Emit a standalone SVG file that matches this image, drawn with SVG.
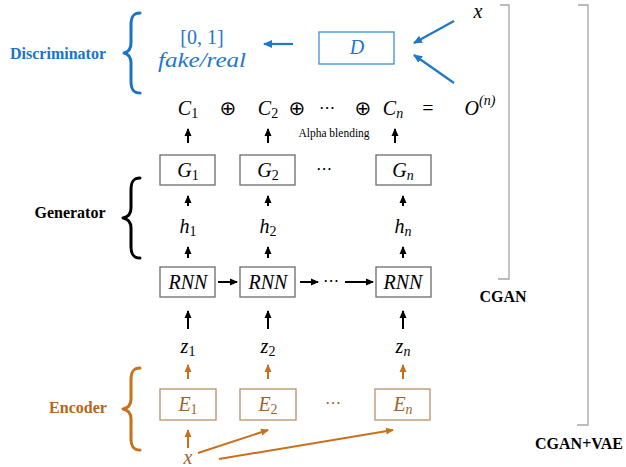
<svg xmlns="http://www.w3.org/2000/svg" width="626" height="467" viewBox="0 0 626 467">
<style>
.m{font-family:"Liberation Serif","Times New Roman",serif;font-style:italic;font-size:20px;text-anchor:middle}
.up{font-style:normal}
.sub{font-size:14px;font-style:normal}
.subi{font-size:14px}
.sym{font-family:"DejaVu Sans",sans-serif;font-style:normal;font-size:20px;text-anchor:middle}
.dots{font-family:"DejaVu Sans",sans-serif;font-style:normal;font-size:16px;text-anchor:middle}
.lbl{font-family:"Liberation Serif","Times New Roman",serif;font-weight:bold;font-size:16px}
.box{fill:#fff;stroke:#6b6b6b;stroke-width:1.3}
.ebox{fill:#fff;stroke:#b8916a;stroke-width:1.3}
.dbox{fill:#fff;stroke:#3d8fd6;stroke-width:1.3}
.ar{stroke:#000;stroke-width:2;fill:none;marker-end:url(#hk)}
.ao{stroke:#c8701e;stroke-width:2;fill:none;marker-end:url(#ho)}
.ab{stroke:#1f78c8;stroke-width:2.2;fill:none;marker-end:url(#hb)}
.brace{fill:none;stroke-width:3;stroke-linecap:round;stroke-linejoin:round}
.bk{fill:none;stroke:#a6a6a6;stroke-width:1.3}
</style>
<defs>
<marker id="hk" markerUnits="userSpaceOnUse" markerWidth="8" markerHeight="8" refX="7" refY="4" orient="auto"><path d="M0,0.5 L8,4 L0,7.5 z" fill="#000"/></marker>
<marker id="ho" markerUnits="userSpaceOnUse" markerWidth="8" markerHeight="8" refX="7" refY="4" orient="auto"><path d="M0,0.5 L8,4 L0,7.5 z" fill="#c8701e"/></marker>
<marker id="hb" markerUnits="userSpaceOnUse" markerWidth="9" markerHeight="9" refX="8" refY="4.5" orient="auto"><path d="M0,0.5 L9,4.5 L0,8.5 z" fill="#1f78c8"/></marker>
</defs>

<!-- outer brackets -->
<g id="bracket-cgan"><polyline class="bk" points="500,5 509,5 509,279 498,279"/><text class="lbl" x="503" y="302" text-anchor="middle">CGAN</text></g>
<g id="bracket-cganvae"><polyline class="bk" points="578,5 588,5 588,425 577,425"/><text class="lbl" x="579" y="449" text-anchor="middle">CGAN+VAE</text></g>

<!-- discriminator -->
<g id="discriminator-label"><text class="lbl" x="58" y="59" text-anchor="middle" fill="#1a74c6">Discriminator</text>
<path class="brace" stroke="#1a74c6" d="M140,13 C133,13 131,17 131,25 L131,43 C131,49 128,52 124,53 C128,54 131,57 131,63 L131,81 C131,89 133,93 140,93"/></g>
<g id="output"><text class="m up" x="202" y="44" fill="#1f78c8">[0, 1]</text>
<text class="m" x="202" y="67" fill="#1f78c8" textLength="88" lengthAdjust="spacingAndGlyphs">fake/real</text></g>
<g id="D"><rect class="dbox" x="319" y="32" width="75" height="32"/><text class="m" x="357" y="54" fill="#1f78c8">D</text></g>
<g id="x-top"><text class="m" x="478" y="18">x</text></g>

<!-- C row -->
<g id="C1"><text class="m" x="188" y="115">C<tspan class="sub" dy="3">1</tspan></text></g>
<g id="C2"><text class="m" x="268" y="115">C<tspan class="sub" dy="3">2</tspan></text></g>
<g id="Cn"><text class="m" x="393" y="115">C<tspan class="subi" dy="3">n</tspan></text></g>
<g id="ops">
<text class="sym" x="228" y="115">⊕</text>
<text class="sym" x="297" y="115">⊕</text>
<text class="dots" x="327" y="113">⋯</text>
<text class="sym" x="363" y="115">⊕</text>
<text class="m up" x="428" y="115">=</text>
</g>
<g id="On"><text class="m" x="480" y="115">O<tspan class="subi" dy="-10">(n)</tspan></text></g>
<g id="alpha"><text x="334" y="137" font-family="Liberation Serif,serif" font-size="11.5" text-anchor="middle">Alpha blending</text></g>

<!-- G boxes -->
<g id="G1"><rect class="box" x="160" y="155" width="55" height="30"/><text class="m" x="188" y="177">G<tspan class="sub" dy="3">1</tspan></text></g>
<g id="G2"><rect class="box" x="240" y="155" width="55" height="30"/><text class="m" x="268" y="177">G<tspan class="sub" dy="3">2</tspan></text></g>
<g id="Gdots"><text class="dots" x="324" y="174">⋯</text></g>
<g id="Gn"><rect class="box" x="376" y="155" width="55" height="30"/><text class="m" x="403" y="177">G<tspan class="subi" dy="3">n</tspan></text></g>

<!-- generator label -->
<g id="generator-label"><text class="lbl" x="70" y="218" text-anchor="middle">Generator</text>
<path class="brace" stroke="#000" d="M140,178 C133,178 131,182 131,190 L131,208 C131,214 128,217 123,218 C128,219 131,222 131,228 L131,246 C131,254 133,258 140,258"/></g>

<!-- h -->
<g id="h1"><text class="m" x="188" y="233">h<tspan class="sub" dy="3">1</tspan></text></g>
<g id="h2"><text class="m" x="268" y="233">h<tspan class="sub" dy="3">2</tspan></text></g>
<g id="hn"><text class="m" x="403" y="233">h<tspan class="subi" dy="3">n</tspan></text></g>

<!-- RNN -->
<g id="RNN1"><rect class="box" x="160" y="267" width="55" height="30"/><text class="m" x="188" y="289">RNN</text></g>
<g id="RNN2"><rect class="box" x="240" y="267" width="55" height="30"/><text class="m" x="268" y="289">RNN</text></g>
<g id="RNNdots"><text class="dots" x="331" y="286">⋯</text></g>
<g id="RNNn"><rect class="box" x="376" y="267" width="55" height="30"/><text class="m" x="403" y="289">RNN</text></g>

<!-- z -->
<g id="z1"><text class="m" x="188" y="353">z<tspan class="sub" dy="3">1</tspan></text></g>
<g id="z2"><text class="m" x="268" y="353">z<tspan class="sub" dy="3">2</tspan></text></g>
<g id="zn"><text class="m" x="403" y="353">z<tspan class="subi" dy="3">n</tspan></text></g>

<!-- encoder label -->
<g id="encoder-label"><text class="lbl" x="78" y="413" text-anchor="middle" fill="#b5651d">Encoder</text>
<path class="brace" stroke="#c8701e" d="M140,368 C133,368 131,372 131,380 L131,399 C131,405 128,408 123,409 C128,410 131,413 131,419 L131,438 C131,446 133,450 140,450"/></g>

<!-- E boxes -->
<g id="E1"><rect class="ebox" x="160" y="389" width="56" height="31"/><text class="m" x="188" y="411" fill="#a0632b">E<tspan class="sub" dy="3">1</tspan></text></g>
<g id="E2"><rect class="ebox" x="240" y="389" width="56" height="31"/><text class="m" x="268" y="411" fill="#a0632b">E<tspan class="sub" dy="3">2</tspan></text></g>
<g id="Edots"><text class="dots" x="333" y="408" fill="#a0632b">⋯</text></g>
<g id="En"><rect class="ebox" x="375" y="389" width="55" height="31"/><text class="m" x="403" y="411" fill="#a0632b">E<tspan class="subi" dy="3">n</tspan></text></g>
<g id="x-bottom"><text class="m" x="188" y="464" fill="#a0632b">x</text></g>

<!-- connectors -->
<g id="connectors">
<line class="ab" x1="293" y1="44" x2="264" y2="44"/>
<line class="ab" x1="454" y1="21" x2="414" y2="43"/>
<line class="ab" x1="454" y1="83" x2="414" y2="55"/>
<line class="ar" x1="188" y1="143" x2="188" y2="129"/>
<line class="ar" x1="268" y1="143" x2="268" y2="129"/>
<line class="ar" x1="395" y1="143" x2="395" y2="129"/>
<line class="ar" x1="188" y1="206" x2="188" y2="196"/>
<line class="ar" x1="268" y1="206" x2="268" y2="196"/>
<line class="ar" x1="403" y1="206" x2="403" y2="196"/>
<line class="ar" x1="188" y1="258" x2="188" y2="247"/>
<line class="ar" x1="268" y1="258" x2="268" y2="247"/>
<line class="ar" x1="403" y1="258" x2="403" y2="247"/>
<line class="ar" x1="218" y1="282" x2="237" y2="282"/>
<line class="ar" x1="300" y1="282" x2="318" y2="282"/>
<line class="ar" x1="345" y1="282" x2="373" y2="282"/>
<line class="ar" x1="188" y1="329" x2="188" y2="311"/>
<line class="ar" x1="268" y1="329" x2="268" y2="311"/>
<line class="ar" x1="403" y1="329" x2="403" y2="311"/>
<line class="ao" x1="188" y1="379" x2="188" y2="365"/>
<line class="ao" x1="268" y1="379" x2="268" y2="365"/>
<line class="ao" x1="403" y1="379" x2="403" y2="365"/>
<line class="ao" x1="188" y1="448" x2="188" y2="430"/>
<line class="ao" x1="198" y1="453" x2="268" y2="430"/>
<line class="ao" x1="219" y1="459" x2="393" y2="430"/>
</g>
</svg>
